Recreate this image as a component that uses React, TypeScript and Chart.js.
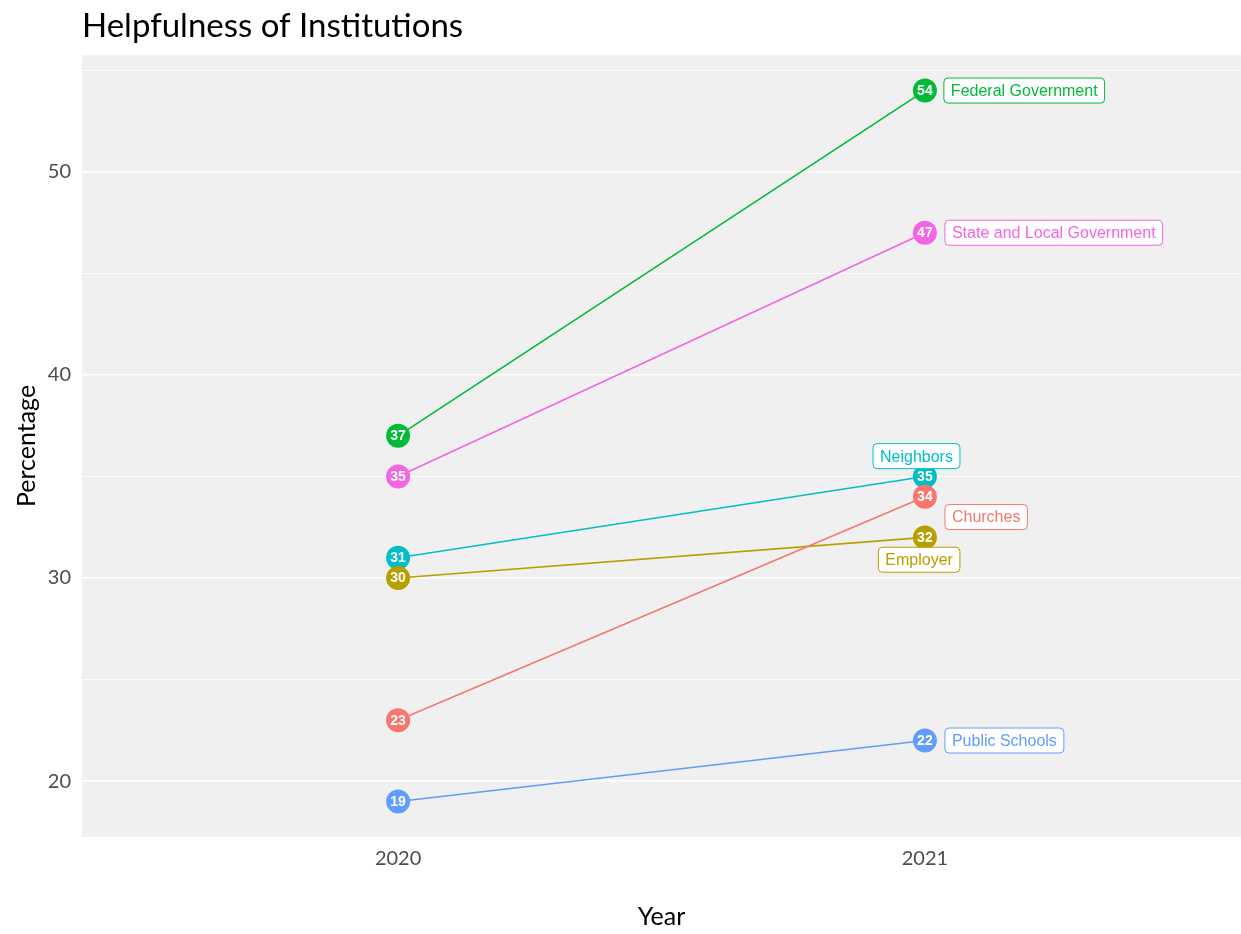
import React, { useEffect, useRef } from "react";
import { Chart, registerables } from "chart.js";

Chart.register(...registerables);

const years = ["2020", "2021"];
const categories = [
  "Churches",
  "Employer",
  "Federal Government",
  "Neighbors",
  "Public Schools",
  "State and Local Government",
];
const values2020 = [23, 30, 37, 31, 19, 35];
const values2021 = [34, 32, 54, 35, 22, 47];
const colors = ["#F8766D", "#B79F00", "#00BA38", "#00BFC4", "#619CFF", "#F564E3"];
// repelled label positions (x in year-index units, y in data units)
const labelX = [1.038, 0.989, 1.036, 0.984, 1.038, 1.038];
const labelY = [33.0, 30.9, 54.0, 36.0, 22.0, 47.0];
const labelAlign = ["left", "center", "left", "center", "left", "left"];
const yTicks = [20, 25, 30, 35, 40, 45, 50, 55];

const TITLE = "Helpfulness of Institutions";
const X_TITLE = "Year";
const Y_TITLE = "Percentage";
const GILL = "Lato, 'Open Sans', sans-serif";
const ARIAL = "'Liberation Sans', Arial, sans-serif";

function roundRect(ctx: CanvasRenderingContext2D, x: number, y: number, w: number, h: number, r: number) {
  ctx.beginPath();
  ctx.moveTo(x + r, y);
  ctx.lineTo(x + w - r, y);
  ctx.arcTo(x + w, y, x + w, y + r, r);
  ctx.lineTo(x + w, y + h - r);
  ctx.arcTo(x + w, y + h, x + w - r, y + h, r);
  ctx.lineTo(x + r, y + h);
  ctx.arcTo(x, y + h, x, y + h - r, r);
  ctx.lineTo(x, y + r);
  ctx.arcTo(x, y, x + r, y, r);
  ctx.closePath();
}

const decorPlugin = {
  id: "decor",
  beforeDraw(chart: any) {
    const { ctx, chartArea } = chart;
    ctx.save();
    ctx.fillStyle = "#F0F0F0";
    ctx.fillRect(chartArea.left, chartArea.top, chartArea.right - chartArea.left, chartArea.bottom - chartArea.top);
    ctx.restore();
  },
  afterDraw(chart: any) {
    const { ctx, chartArea, scales } = chart;
    const xs = scales.x;
    const ys = scales.y;
    ctx.save();
    // numbers in points
    ctx.font = `bold 14px ${ARIAL}`;
    ctx.fillStyle = "#FFFFFF";
    ctx.textAlign = "center";
    ctx.textBaseline = "middle";
    chart.data.datasets.forEach((ds: any) => {
      ds.data.forEach((p: any) => {
        ctx.fillText(String(p.y), xs.getPixelForValue(p.x), ys.getPixelForValue(p.y) + 0.5);
      });
    });
    // labels
    ctx.font = `16px ${ARIAL}`;
    categories.forEach((name, i) => {
      const tw = ctx.measureText(name).width;
      const pad = 7;
      const w = tw + pad * 2;
      const h = 25;
      const px = xs.getPixelForValue(labelX[i]);
      const py = ys.getPixelForValue(labelY[i]);
      const left = labelAlign[i] === "left" ? px : px - w / 2;
      roundRect(ctx, left, py - h / 2, w, h, 4);
      ctx.fillStyle = "#FFFFFF";
      ctx.fill();
      ctx.strokeStyle = colors[i];
      ctx.lineWidth = 1;
      ctx.stroke();
      ctx.fillStyle = colors[i];
      ctx.textAlign = "center";
      ctx.textBaseline = "middle";
      ctx.fillText(name, left + w / 2, py + 1);
    });
    // titles
    ctx.fillStyle = "#000000";
    ctx.font = `33px ${GILL}`;
    ctx.textAlign = "left";
    ctx.textBaseline = "alphabetic";
    ctx.fillText(TITLE, chartArea.left, 37);
    ctx.font = `25px ${GILL}`;
    ctx.textAlign = "center";
    ctx.textBaseline = "middle";
    ctx.fillText(X_TITLE, (chartArea.left + chartArea.right) / 2, 917);
    ctx.translate(27, (chartArea.top + chartArea.bottom) / 2);
    ctx.rotate(-Math.PI / 2);
    ctx.fillText(Y_TITLE, 0, 0);
    ctx.restore();
  },
};

export default function App() {
  const ref = useRef<HTMLCanvasElement>(null);
  useEffect(() => {
    document.body.style.margin = "0";
    const datasets = categories.map((name, i) => ({
      label: name,
      data: [
        { x: 0, y: values2020[i] },
        { x: 1, y: values2021[i] },
      ],
      borderColor: colors[i],
      backgroundColor: colors[i],
      pointBackgroundColor: colors[i],
      pointBorderColor: colors[i],
      pointRadius: 12,
      pointBorderWidth: 0,
      borderWidth: 1.6,
      tension: 0,
    }));
    const chart = new Chart(ref.current!, {
      type: "line",
      data: { datasets },
      plugins: [decorPlugin],
      options: {
        animation: false,
        responsive: false,
        maintainAspectRatio: false,
        layout: { autoPadding: false, padding: { top: 55, right: 0, left: 0, bottom: 0 } },
        plugins: { legend: { display: false }, tooltip: { enabled: false }, title: { display: false } },
        scales: {
          x: {
            type: "linear",
            min: -0.6,
            max: 1.6,
            afterBuildTicks: (axis: any) => {
              axis.ticks = years.map((_, i) => ({ value: i }));
            },
            afterFit: (axis: any) => {
              axis.height = 97;
            },
            grid: { display: false, drawTicks: false },
            border: { display: false },
            ticks: {
              padding: 10,
              color: "#4D4D4D",
              font: { family: GILL, size: 20 },
              callback: (v: any) => years[Math.round(Number(v))] ?? "",
              maxRotation: 0,
            },
          },
          y: {
            type: "linear",
            min: 17.25,
            max: 55.75,
            afterBuildTicks: (axis: any) => {
              axis.ticks = yTicks.map((v) => ({ value: v }));
            },
            afterFit: (axis: any) => {
              axis.width = 82;
            },
            grid: {
              color: "#FFFFFF",
              lineWidth: (c: any) => (c.tick && c.tick.value % 10 === 0 ? 1.6 : 0.8),
              drawTicks: false,
            },
            border: { display: false },
            ticks: {
              padding: 11,
              color: "#4D4D4D",
              font: { family: GILL, size: 20 },
              callback: (v: any) => (Number(v) % 10 === 0 ? String(v) : ""),
            },
          },
        },
      } as any,
    });
    return () => chart.destroy();
  }, []);
  return (
    <div style={{ width: 1241, height: 934 }}>
      <canvas ref={ref} width={1241} height={934} style={{ display: "block" }} />
    </div>
  );
}
